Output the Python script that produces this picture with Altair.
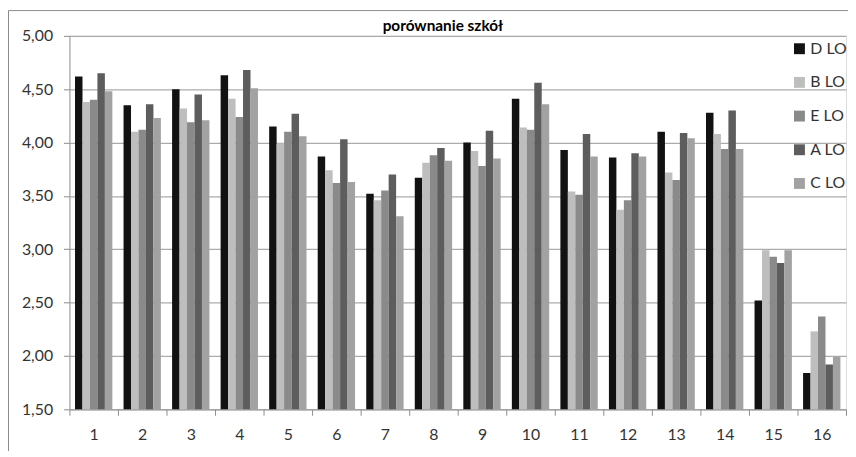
import altair as alt
import pandas as pd

categories = [str(i) for i in range(1, 17)]
schools = ["D LO", "B LO", "E LO", "A LO", "C LO"]
colors = ["#121212", "#bebebe", "#8a8a8a", "#5d5d5d", "#a2a2a2"]

d_lo = [4.62, 4.35, 4.50, 4.63, 4.15, 3.87, 3.52, 3.67, 4.00, 4.41, 3.93, 3.86, 4.10, 4.28, 2.52, 1.84]
b_lo = [4.38, 4.10, 4.32, 4.41, 3.99, 3.74, 3.46, 3.81, 3.92, 4.14, 3.54, 3.37, 3.72, 4.08, 2.99, 2.23]
e_lo = [4.40, 4.12, 4.19, 4.24, 4.10, 3.62, 3.55, 3.88, 3.78, 4.12, 3.51, 3.46, 3.65, 3.94, 2.93, 2.37]
a_lo = [4.65, 4.36, 4.45, 4.68, 4.27, 4.03, 3.70, 3.95, 4.11, 4.56, 4.08, 3.90, 4.09, 4.30, 2.87, 1.92]
c_lo = [4.48, 4.23, 4.21, 4.51, 4.06, 3.63, 3.31, 3.83, 3.85, 4.36, 3.87, 3.87, 4.04, 3.94, 2.99, 1.99]

y_ticks = [1.5, 2.0, 2.5, 3.0, 3.5, 4.0, 4.5, 5.0]
chart_title = "porównanie szkół"

series = {"D LO": d_lo, "B LO": b_lo, "E LO": e_lo, "A LO": a_lo, "C LO": c_lo}
rows = []
for s, vals in series.items():
    for c, v in zip(categories, vals):
        rows.append({"kat": c, "szkola": s, "wartosc": v})
df = pd.DataFrame(rows)

W, H = 784, 377

bars = alt.Chart(df).mark_bar().encode(
    x=alt.X("kat:N", sort=categories, title=None,
            scale=alt.Scale(paddingInner=0, paddingOuter=0),
            axis=alt.Axis(labelAngle=0, tickBand="extent", tickSize=6,
                          tickColor="#8c8c8c", domainColor="#9a9a9a",
                          labelFont="Lato", labelFontSize=16, labelColor="#333333",
                          labelPadding=12, grid=False)),
    xOffset=alt.XOffset("szkola:N", sort=schools,
                        scale=alt.Scale(paddingInner=0, paddingOuter=0.75)),
    y=alt.Y("wartosc:Q", title=None,
            scale=alt.Scale(domain=[1.5, 5.0], zero=False, nice=False),
            axis=alt.Axis(values=y_ticks, tickSize=6, tickColor="#8c8c8c",
                          domainColor="#9a9a9a", gridColor="#ababab", gridWidth=1.2,
                          labelFont="Lato", labelFontSize=16, labelColor="#333333",
                          labelPadding=11,
                          labelExpr="replace(format(datum.value, '.2f'), '.', ',')")),
    y2=alt.datum(1.5),
    color=alt.Color("szkola:N", sort=schools,
                    scale=alt.Scale(domain=schools, range=colors),
                    legend=alt.Legend(title=None, orient="none", legendX=729, legendY=5,
                                      symbolType="square", symbolSize=121,
                                      symbolStrokeWidth=0, labelFont="Lato",
                                      labelFontSize=16, labelColor="#333333",
                                      labelOffset=3, rowPadding=18, padding=0)),
)

frame = pd.DataFrame([{"k": 1}])
left_border = alt.Chart(frame).mark_rule(color="#8a8a8a", strokeWidth=1).encode(
    x=alt.value(-61.5), y=alt.value(-25.5), y2=alt.value(425))
top_border = alt.Chart(frame).mark_rule(color="#8a8a8a", strokeWidth=1).encode(
    x=alt.value(-61.5), x2=alt.value(800), y=alt.value(-25.5))
title_text = alt.Chart(frame).mark_text(
    font="Lato", fontSize=15.5, fontWeight="bold", color="#000000",
    align="center", baseline="alphabetic").encode(
    x=alt.value(377), y=alt.value(-5), text=alt.value(chart_title))

chart = alt.layer(bars, left_border, top_border, title_text).properties(
    width=W, height=H,
    autosize=alt.AutoSizeParams(type="none"),
    padding={"left": 62, "top": 26, "right": 2, "bottom": 40},
).configure_view(stroke=None).configure(background="white")

chart.save("out.html", embed_options={"renderer": "svg", "actions": False})
